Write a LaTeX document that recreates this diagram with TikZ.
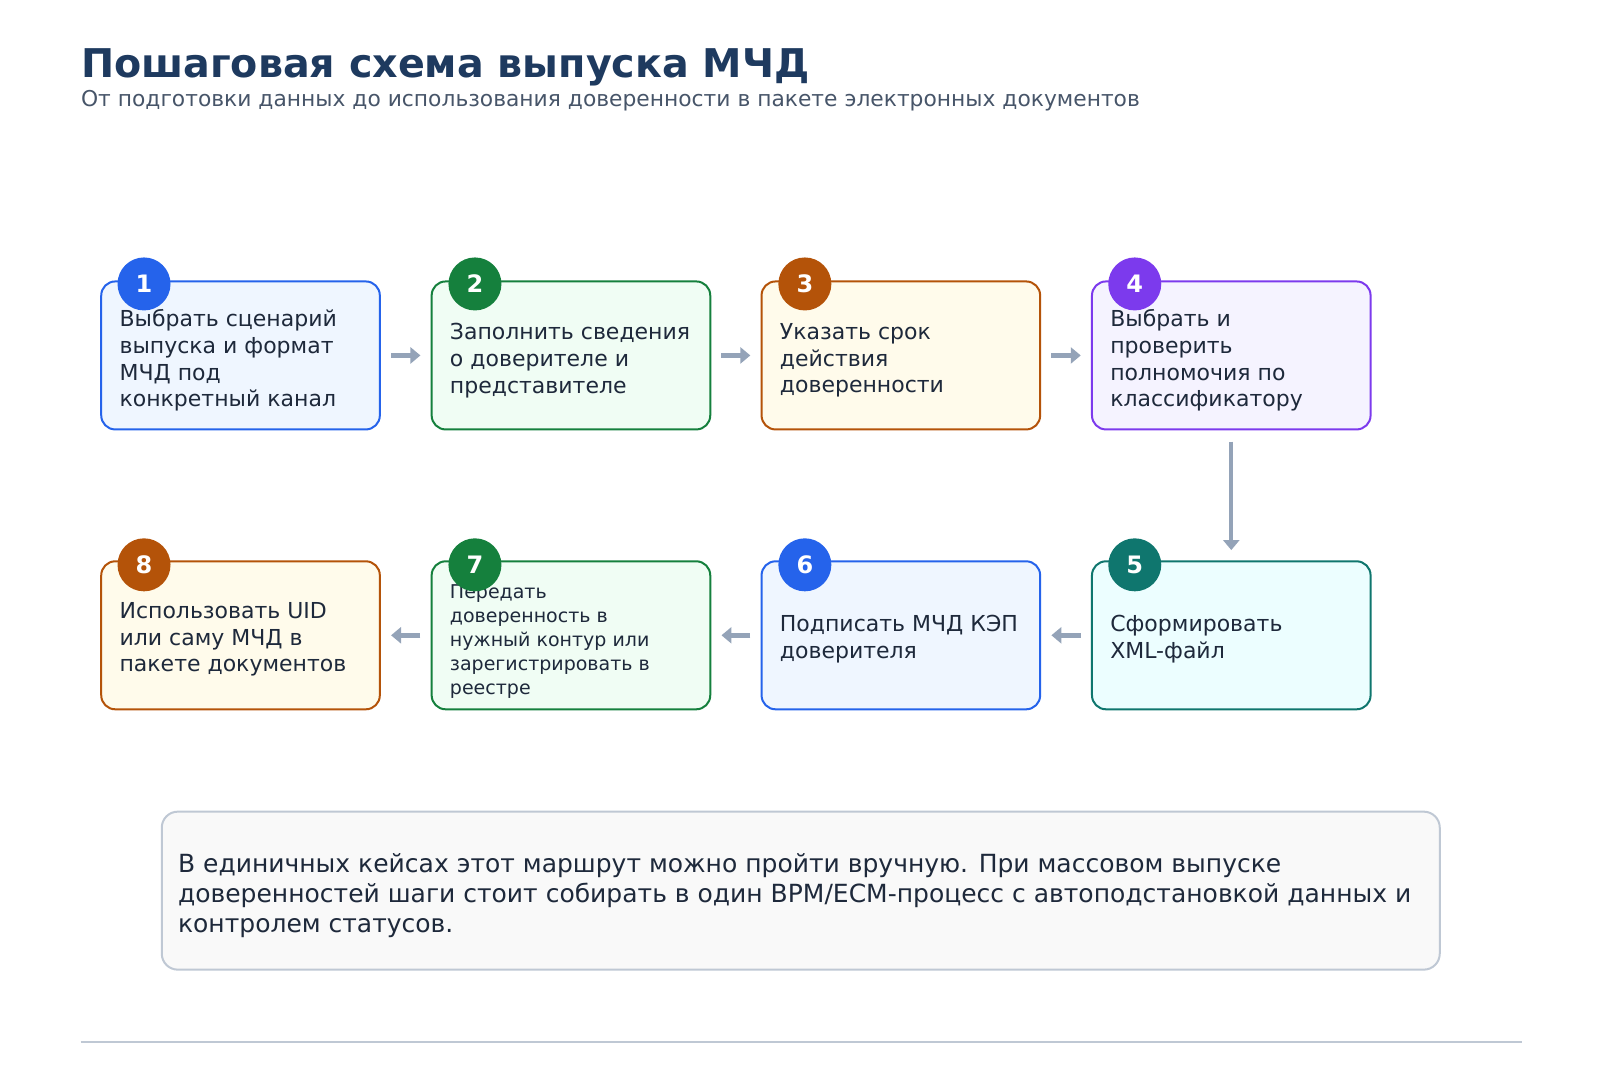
\documentclass[tikz,border=0pt]{standalone}
\usepackage{fontspec}
\setmainfont{DejaVu Sans}
\usetikzlibrary{arrows.meta,positioning,calc}
\definecolor{mtitle}{HTML}{1E3A5F}
\definecolor{msub}{HTML}{475569}
\definecolor{mtext}{HTML}{1E293B}
\definecolor{marrow}{HTML}{94A3B8}
\definecolor{mblue}{HTML}{2563EB}
\definecolor{mgreen}{HTML}{15803D}
\definecolor{morange}{HTML}{B45309}
\definecolor{mpurple}{HTML}{7C3AED}
\definecolor{mteal}{HTML}{0F766E}
\definecolor{fblue}{HTML}{EFF6FF}
\definecolor{fgreen}{HTML}{F0FDF4}
\definecolor{forange}{HTML}{FFFBEB}
\definecolor{fpurple}{HTML}{F5F3FF}
\definecolor{fteal}{HTML}{ECFEFF}
\tikzstyle{stepbox}=[draw, rounded corners=7pt, line width=1, minimum width=139.3pt, minimum height=74pt, inner sep=0pt]
\tikzstyle{badge}=[circle, minimum size=26.5pt, inner sep=0pt, text=white, font=\bfseries\fontsize{12}{12}\selectfont]
\tikzstyle{lbl}=[anchor=west, align=left, text=mtext, font=\fontsize{11}{13.3}\selectfont]
\tikzstyle{l1}=[line width=2.2pt, color=marrow, -{Triangle[length=5pt,width=8pt]}]
\begin{document}
\begin{tikzpicture}[x=0.5107pt,y=-0.5107pt]
    \useasboundingbox (0,0) rectangle (1566.5,1057.3);
    \node[anchor=base west, text=mtitle, font=\bfseries\fontsize{19.8}{20}\selectfont, inner sep=0pt] (title) at (79,76) {Пошаговая схема выпуска МЧД};
    \node[anchor=base west, text=msub, font=\fontsize{10.9}{11}\selectfont, inner sep=0pt] (sub) at (79,104) {От подготовки данных до использования доверенности в пакете электронных документов};

    % boxes
    \node[stepbox, draw=mblue,   fill=fblue]   (b1) at (235.5,348) {};
    \node[stepbox, draw=mgreen,  fill=fgreen]  (b2) at (559,348) {};
    \node[stepbox, draw=morange, fill=forange] (b3) at (882,348) {};
    \node[stepbox, draw=mpurple, fill=fpurple] (b4) at (1205.5,348) {};
    \node[stepbox, draw=mteal,   fill=fteal]   (b5) at (1205.5,622) {};
    \node[stepbox, draw=mblue,   fill=fblue]   (b6) at (882,622) {};
    \node[stepbox, draw=mgreen,  fill=fgreen]  (b7) at (559,622) {};
    \node[stepbox, draw=morange, fill=forange] (b8) at (235.5,622) {};

    \node[lbl] at ($(b1.west)+(12,5)$) {Выбрать сценарий\\выпуска и формат\\МЧД под\\конкретный канал};
    \node[lbl] at ($(b2.west)+(12,5)$) {Заполнить сведения\\о доверителе и\\представителе};
    \node[lbl] at ($(b3.west)+(12,5)$) {Указать срок\\действия\\доверенности};
    \node[lbl] at ($(b4.west)+(12,5)$) {Выбрать и\\проверить\\полномочия по\\классификатору};
    \node[lbl] at ($(b5.west)+(12,4)$) {Сформировать\\XML-файл};
    \node[lbl] at ($(b6.west)+(12,4)$) {Подписать МЧД КЭП\\доверителя};
    \node[lbl, font=\fontsize{9.5}{12}\selectfont] at ($(b7.west)+(12,6)$) {Передать\\доверенность в\\нужный контур или\\зарегистрировать в\\реестре};
    \node[lbl] at ($(b8.west)+(12,4)$) {Использовать UID\\или саму МЧД в\\пакете документов};

    % badges
    \node[badge, fill=mblue]   (n1) at (141,278) {1};
    \node[badge, fill=mgreen]  (n2) at (465,278) {2};
    \node[badge, fill=morange] (n3) at (788,278) {3};
    \node[badge, fill=mpurple] (n4) at (1111,278) {4};
    \node[badge, fill=mteal]   (n5) at (1111,553) {5};
    \node[badge, fill=mblue]   (n6) at (788,553) {6};
    \node[badge, fill=mgreen]  (n7) at (465,553) {7};
    \node[badge, fill=morange] (n8) at (141,553) {8};

    % connectors
    \draw[l1] ($(b1.east)+(10,0)$) -- ($(b2.west)+(-10,0)$);
    \draw[l1] ($(b2.east)+(10,0)$) -- ($(b3.west)+(-10,0)$);
    \draw[l1] ($(b3.east)+(10,0)$) -- ($(b4.west)+(-10,0)$);
    \draw[l1] ($(b4.south)+(0,11)$) -- ($(b5.north)+(0,-10)$);
    \draw[l1] ($(b5.west)+(-10,0)$) -- ($(b6.east)+(10,0)$);
    \draw[l1] ($(b6.west)+(-10,0)$) -- ($(b7.east)+(10,0)$);
    \draw[l1] ($(b7.west)+(-10,0)$) -- ($(b8.east)+(10,0)$);

    % note
    \node[draw=marrow!60, fill=gray!5, line width=1, rounded corners=8pt, minimum width=639pt, minimum height=79pt] (note) at (784,872) {};
    \node[lbl, font=\fontsize{12.5}{15}\selectfont] at ($(note.west)+(10,5)$) {В единичных кейсах этот маршрут можно пройти вручную. При массовом выпуске\\доверенностей шаги стоит собирать в один BPM/ECM-процесс с автоподстановкой данных и\\контролем статусов.};
    \draw[marrow!60, line width=0.8] (79,1020) -- (1490,1020);
\end{tikzpicture}
\end{document}
